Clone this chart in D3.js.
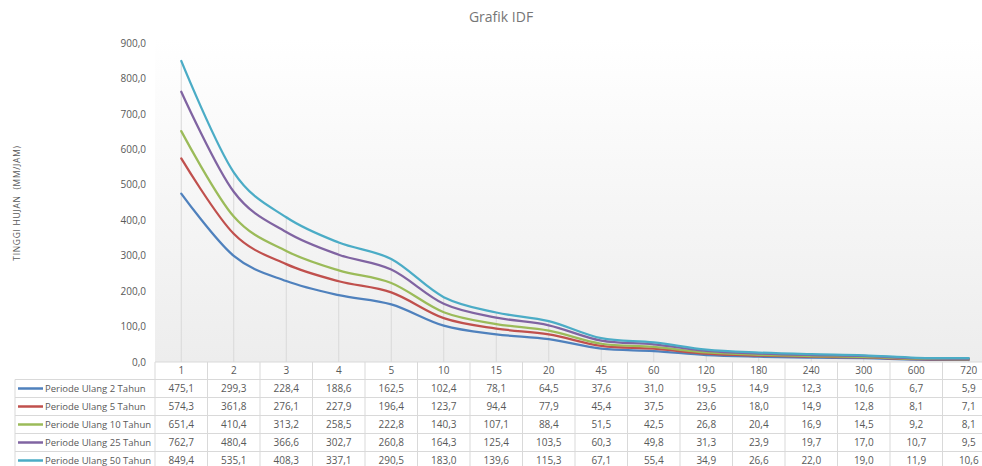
<!DOCTYPE html>
<html>
<head>
<meta charset="utf-8">
<script src="https://cdn.jsdelivr.net/npm/d3@7"></script>
<style>
  html, body { margin: 0; padding: 0; background: #fff; }
  svg { display: block; font-family: "Open Sans", "Noto Sans", sans-serif; }
</style>
</head>
<body>
<svg id="chart" width="982" height="466"></svg>
<script>
// Duration (minutes) categories
const durations = ["1", "2", "3", "4", "5", "10", "15", "20", "45", "60", "120", "180", "240", "300", "600", "720"];

const seriesNames = [
  "Periode Ulang 2 Tahun",
  "Periode Ulang 5 Tahun",
  "Periode Ulang 10 Tahun",
  "Periode Ulang 25 Tahun",
  "Periode Ulang 50 Tahun"
];

const ulang2  = [475.1, 299.3, 228.4, 188.6, 162.5, 102.4, 78.1, 64.5, 37.6, 31.0, 19.5, 14.9, 12.3, 10.6, 6.7, 5.9];
const ulang5  = [574.3, 361.8, 276.1, 227.9, 196.4, 123.7, 94.4, 77.9, 45.4, 37.5, 23.6, 18.0, 14.9, 12.8, 8.1, 7.1];
const ulang10 = [651.4, 410.4, 313.2, 258.5, 222.8, 140.3, 107.1, 88.4, 51.5, 42.5, 26.8, 20.4, 16.9, 14.5, 9.2, 8.1];
const ulang25 = [762.7, 480.4, 366.6, 302.7, 260.8, 164.3, 125.4, 103.5, 60.3, 49.8, 31.3, 23.9, 19.7, 17.0, 10.7, 9.5];
const ulang50 = [849.4, 535.1, 408.3, 337.1, 290.5, 183.0, 139.6, 115.3, 67.1, 55.4, 34.9, 26.6, 22.0, 19.0, 11.9, 10.6];

const yTicks = [0, 100, 200, 300, 400, 500, 600, 700, 800, 900];
const colors = ["#4F81BD", "#C0504D", "#9BBB59", "#8064A2", "#4BACC6"];

const seriesValues = [ulang2, ulang5, ulang10, ulang25, ulang50];
const series = seriesNames.map((name, i) => ({ name, values: seriesValues[i], color: colors[i] }));

const svg = d3.select("#chart");

const plotLeft = 155, plotRight = 995, plotTop = 43, plotBottom = 362;
const rowH = 18, headerH = 17.5;
const tableLeft = 15;

const x = d3.scaleBand().domain(durations).range([plotLeft, plotRight]).padding(0);
const y = d3.scaleLinear().domain([0, 900]).range([plotBottom, plotTop]);

const fmt = v => d3.format(".1f")(v).replace(".", ",");
const textCol = "#595959";
const gridCol = "#d9d9d9";

// Plot area gradient fill
const defs = svg.append("defs");
const grad = defs.append("linearGradient").attr("id", "plotFill")
  .attr("x1", 0).attr("y1", 0).attr("x2", 0).attr("y2", 1);
grad.append("stop").attr("offset", "0%").attr("stop-color", "#ffffff");
grad.append("stop").attr("offset", "100%").attr("stop-color", "#ededed");

svg.append("rect")
  .attr("x", plotLeft).attr("y", plotTop - 5)
  .attr("width", plotRight - plotLeft).attr("height", plotBottom - plotTop + 5)
  .attr("fill", "url(#plotFill)");

// Title
svg.append("text")
  .attr("x", 501).attr("y", 22)
  .attr("text-anchor", "middle")
  .attr("font-size", 14)
  .attr("fill", "#767676")
  .text("Grafik IDF");

// Y axis label
svg.append("text")
  .attr("transform", `translate(20,${203}) rotate(-90)`)
  .attr("text-anchor", "middle")
  .attr("font-size", 8.5)
  .attr("letter-spacing", 0.7)
  .attr("fill", textCol)
  .attr("xml:space", "preserve")
  .text("TINGGI HUJAN  (MM/JAM)");

// Y axis (labels only)
const yAxis = d3.axisLeft(y).tickValues(yTicks).tickFormat(fmt).tickSize(0).tickPadding(0);
const yG = svg.append("g").attr("transform", `translate(146,0)`).call(yAxis);
yG.select(".domain").remove();
yG.selectAll("text").attr("font-size", 10).attr("fill", textCol)
  .attr("font-family", "'Open Sans', sans-serif");

// Drop lines from the highest series down to the axis
const maxVals = durations.map((d, i) => d3.max(series, s => s.values[i]));
svg.append("g").selectAll("line").data(durations).join("line")
  .attr("x1", d => x(d) + x.bandwidth() / 2)
  .attr("x2", d => x(d) + x.bandwidth() / 2)
  .attr("y1", (d, i) => y(maxVals[i]))
  .attr("y2", plotBottom)
  .attr("stroke", gridCol).attr("stroke-width", 1);

// Smoothed series lines
const line = d3.line()
  .x((v, i) => x(durations[i]) + x.bandwidth() / 2)
  .y(v => y(v))
  .curve(d3.curveCardinal.tension(0));

svg.append("g").selectAll("path").data(series).join("path")
  .attr("d", s => line(s.values))
  .attr("fill", "none")
  .attr("stroke", s => s.color)
  .attr("stroke-width", 2.25)
  .attr("stroke-linecap", "round");

// Data table
const table = svg.append("g");
const tableTop = plotBottom;
const bodyTop = tableTop + headerH;
const tableBottom = bodyTop + rowH * series.length;

// Horizontal rules
table.append("line")
  .attr("x1", plotLeft).attr("x2", plotRight)
  .attr("y1", tableTop).attr("y2", tableTop)
  .attr("stroke", gridCol);
for (let r = 0; r <= series.length; r++) {
  const yy = bodyTop + r * rowH;
  table.append("line")
    .attr("x1", tableLeft).attr("x2", plotRight)
    .attr("y1", yy).attr("y2", yy)
    .attr("stroke", gridCol);
}
// Vertical rules
table.append("line")
  .attr("x1", tableLeft).attr("x2", tableLeft)
  .attr("y1", bodyTop).attr("y2", tableBottom)
  .attr("stroke", gridCol);
durations.concat(["end"]).forEach((d, i) => {
  const xx = plotLeft + i * x.bandwidth();
  table.append("line")
    .attr("x1", xx).attr("x2", xx)
    .attr("y1", tableTop).attr("y2", tableBottom)
    .attr("stroke", gridCol);
});

// Category header
table.append("g").selectAll("text").data(durations).join("text")
  .attr("x", d => x(d) + x.bandwidth() / 2)
  .attr("y", tableTop + headerH / 2 + 3.5)
  .attr("text-anchor", "middle")
  .attr("font-size", 10).attr("fill", textCol)
  .text(d => d);

// Series rows: legend key, name and values
series.forEach((s, r) => {
  const cy = bodyTop + r * rowH + rowH / 2;
  table.append("line")
    .attr("x1", 18).attr("x2", 43)
    .attr("y1", cy).attr("y2", cy)
    .attr("stroke", s.color).attr("stroke-width", 2.5);
  table.append("text")
    .attr("x", 45).attr("y", cy + 3.5)
    .attr("font-size", 9.5).attr("fill", textCol)
    .text(s.name);
  table.append("g").selectAll("text").data(s.values).join("text")
    .attr("x", (v, i) => x(durations[i]) + x.bandwidth() / 2)
    .attr("y", cy + 3.5)
    .attr("text-anchor", "middle")
    .attr("font-size", 10).attr("fill", textCol)
    .text(v => fmt(v));
});
</script>
</body>
</html>
